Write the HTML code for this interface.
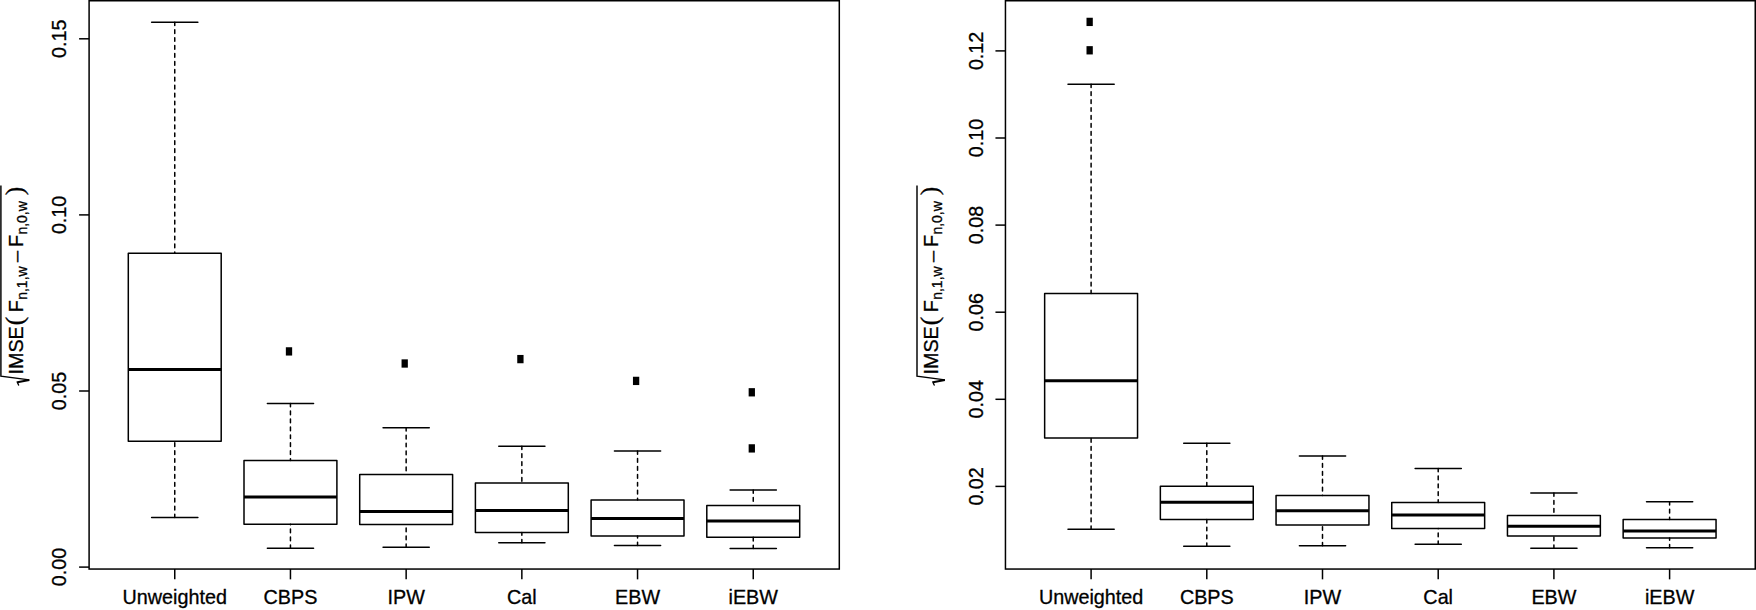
<!DOCTYPE html>
<html lang="en">
<head>
<meta charset="utf-8">
<title>Boxplots of IMSE by weighting method</title>
<style>
html,body{margin:0;padding:0;background:#fff;}
body{width:1756px;height:610px;overflow:hidden;}
svg{display:block;}
.t{font-family:"Liberation Sans", "DejaVu Sans", sans-serif;font-size:19.75px;fill:#000;stroke:#000;stroke-width:0.3px;}
.sub{font-size:14px;}
.par{font-family:"Liberation Serif","DejaVu Serif",serif;font-size:25.5px;}
.min{font-family:"Liberation Serif","DejaVu Serif",serif;font-size:24.3px;}
.s{fill:none;stroke:#000;stroke-width:1.5;stroke-linecap:round;stroke-linejoin:round;}
.w{fill:none;stroke:#000;stroke-width:1.5;stroke-dasharray:3.7 4.24;stroke-dashoffset:0.45;stroke-linecap:round;}
.m{fill:none;stroke:#000;stroke-width:3;}
</style>
</head>
<body>
<svg width="1756" height="610" viewBox="0 0 1756 610">
<rect x="0" y="0" width="1756" height="610" fill="#fff"/>
<g transform="translate(0 0)">
<rect x="89.1" y="0.75" width="750.2" height="568.3" fill="none" stroke="#000" stroke-width="1.5"/>
<line x1="79.1" y1="38.8" x2="89.1" y2="38.8" stroke="#000" stroke-width="1.5"/>
<text class="t" text-anchor="middle" transform="translate(65.8 38.8) rotate(-90)">0.15</text>
<line x1="79.1" y1="214.9" x2="89.1" y2="214.9" stroke="#000" stroke-width="1.5"/>
<text class="t" text-anchor="middle" transform="translate(65.8 214.9) rotate(-90)">0.10</text>
<line x1="79.1" y1="391" x2="89.1" y2="391" stroke="#000" stroke-width="1.5"/>
<text class="t" text-anchor="middle" transform="translate(65.8 391) rotate(-90)">0.05</text>
<line x1="79.1" y1="567.1" x2="89.1" y2="567.1" stroke="#000" stroke-width="1.5"/>
<text class="t" text-anchor="middle" transform="translate(65.8 567.1) rotate(-90)">0.00</text>
<line x1="174.75" y1="569.05" x2="174.75" y2="579.35" stroke="#000" stroke-width="1.5"/>
<text class="t" text-anchor="middle" x="174.75" y="603.5">Unweighted</text>
<line x1="290.45" y1="569.05" x2="290.45" y2="579.35" stroke="#000" stroke-width="1.5"/>
<text class="t" text-anchor="middle" x="290.45" y="603.5">CBPS</text>
<line x1="406.15" y1="569.05" x2="406.15" y2="579.35" stroke="#000" stroke-width="1.5"/>
<text class="t" text-anchor="middle" x="406.15" y="603.5">IPW</text>
<line x1="521.85" y1="569.05" x2="521.85" y2="579.35" stroke="#000" stroke-width="1.5"/>
<text class="t" text-anchor="middle" x="521.85" y="603.5">Cal</text>
<line x1="637.55" y1="569.05" x2="637.55" y2="579.35" stroke="#000" stroke-width="1.5"/>
<text class="t" text-anchor="middle" x="637.55" y="603.5">EBW</text>
<line x1="753.25" y1="569.05" x2="753.25" y2="579.35" stroke="#000" stroke-width="1.5"/>
<text class="t" text-anchor="middle" x="753.25" y="603.5">iEBW</text>
<line class="w" x1="174.75" y1="22.2" x2="174.75" y2="253.2"/>
<line class="w" x1="174.75" y1="517.5" x2="174.75" y2="441.2"/>
<line class="s" x1="151.65" y1="22.2" x2="197.85" y2="22.2"/>
<line class="s" x1="151.65" y1="517.5" x2="197.85" y2="517.5"/>
<rect class="s" x="128.3" y="253.2" width="92.9" height="188"/>
<line class="m" x1="128.3" y1="369.6" x2="221.2" y2="369.6"/>
<line class="w" x1="290.45" y1="403.6" x2="290.45" y2="460.5"/>
<line class="w" x1="290.45" y1="548.2" x2="290.45" y2="524.3"/>
<line class="s" x1="267.35" y1="403.6" x2="313.55" y2="403.6"/>
<line class="s" x1="267.35" y1="548.2" x2="313.55" y2="548.2"/>
<rect class="s" x="244" y="460.5" width="92.9" height="63.8"/>
<line class="m" x1="244" y1="497.1" x2="336.9" y2="497.1"/>
<rect x="285.85" y="347.25" width="6.3" height="8.3" fill="#000"/>
<line class="w" x1="406.15" y1="427.7" x2="406.15" y2="474.5"/>
<line class="w" x1="406.15" y1="547.2" x2="406.15" y2="524.6"/>
<line class="s" x1="383.05" y1="427.7" x2="429.25" y2="427.7"/>
<line class="s" x1="383.05" y1="547.2" x2="429.25" y2="547.2"/>
<rect class="s" x="359.7" y="474.5" width="92.9" height="50.1"/>
<line class="m" x1="359.7" y1="511.5" x2="452.6" y2="511.5"/>
<rect x="401.55" y="359.35" width="6.3" height="8.3" fill="#000"/>
<line class="w" x1="521.85" y1="446.3" x2="521.85" y2="483"/>
<line class="w" x1="521.85" y1="542.8" x2="521.85" y2="532.5"/>
<line class="s" x1="498.75" y1="446.3" x2="544.95" y2="446.3"/>
<line class="s" x1="498.75" y1="542.8" x2="544.95" y2="542.8"/>
<rect class="s" x="475.4" y="483" width="92.9" height="49.5"/>
<line class="m" x1="475.4" y1="510.4" x2="568.3" y2="510.4"/>
<rect x="517.25" y="354.95" width="6.3" height="8.3" fill="#000"/>
<line class="w" x1="637.55" y1="451.1" x2="637.55" y2="499.9"/>
<line class="w" x1="637.55" y1="545.5" x2="637.55" y2="536"/>
<line class="s" x1="614.45" y1="451.1" x2="660.65" y2="451.1"/>
<line class="s" x1="614.45" y1="545.5" x2="660.65" y2="545.5"/>
<rect class="s" x="591.1" y="499.9" width="92.9" height="36.1"/>
<line class="m" x1="591.1" y1="518.5" x2="684" y2="518.5"/>
<rect x="632.95" y="376.75" width="6.3" height="8.3" fill="#000"/>
<line class="w" x1="753.25" y1="490.1" x2="753.25" y2="505.4"/>
<line class="w" x1="753.25" y1="548.5" x2="753.25" y2="537.3"/>
<line class="s" x1="730.15" y1="490.1" x2="776.35" y2="490.1"/>
<line class="s" x1="730.15" y1="548.5" x2="776.35" y2="548.5"/>
<rect class="s" x="706.8" y="505.4" width="92.9" height="31.9"/>
<line class="m" x1="706.8" y1="521" x2="799.7" y2="521"/>
<rect x="748.65" y="388.15" width="6.3" height="8.3" fill="#000"/>
<rect x="748.65" y="444.25" width="6.3" height="8.3" fill="#000"/>
<g transform="translate(0.4 0)">
<polyline fill="none" stroke="#000" stroke-width="1.45" stroke-linejoin="miter" points="0.5,185.4 0.5,376.15 28.9,379.85"/>
<polyline fill="none" stroke="#000" stroke-width="2.0" points="28.9,379.9 17,382.3"/>
<polyline fill="none" stroke="#000" stroke-width="1.35" stroke-linecap="round" points="16.8,381.9 18.2,385.1"/>
<text class="t" transform="translate(22.4 374.5) rotate(-90)"><tspan x="0" y="0">IMSE</tspan><tspan class="par" x="49.2" y="0">( </tspan><tspan x="62.2" y="0">F</tspan><tspan class="sub" x="74.7" y="4">n,1,w </tspan><tspan class="min" x="111.2" y="3.2">− </tspan><tspan x="127.5" y="0">F</tspan><tspan class="sub" x="139.9" y="4">n,0,w </tspan><tspan class="par" x="179.3" y="0">)</tspan></text>
</g>
</g>
<g transform="translate(916.35 0)">
<rect x="89.1" y="0.75" width="749.8" height="568.3" fill="none" stroke="#000" stroke-width="1.5"/>
<line x1="79.1" y1="50.9" x2="89.1" y2="50.9" stroke="#000" stroke-width="1.5"/>
<text class="t" text-anchor="middle" transform="translate(66.4 50.9) rotate(-90)">0.12</text>
<line x1="79.1" y1="138" x2="89.1" y2="138" stroke="#000" stroke-width="1.5"/>
<text class="t" text-anchor="middle" transform="translate(66.4 138) rotate(-90)">0.10</text>
<line x1="79.1" y1="225.1" x2="89.1" y2="225.1" stroke="#000" stroke-width="1.5"/>
<text class="t" text-anchor="middle" transform="translate(66.4 225.1) rotate(-90)">0.08</text>
<line x1="79.1" y1="312.2" x2="89.1" y2="312.2" stroke="#000" stroke-width="1.5"/>
<text class="t" text-anchor="middle" transform="translate(66.4 312.2) rotate(-90)">0.06</text>
<line x1="79.1" y1="399.3" x2="89.1" y2="399.3" stroke="#000" stroke-width="1.5"/>
<text class="t" text-anchor="middle" transform="translate(66.4 399.3) rotate(-90)">0.04</text>
<line x1="79.1" y1="486.4" x2="89.1" y2="486.4" stroke="#000" stroke-width="1.5"/>
<text class="t" text-anchor="middle" transform="translate(66.4 486.4) rotate(-90)">0.02</text>
<line x1="174.75" y1="569.05" x2="174.75" y2="579.35" stroke="#000" stroke-width="1.5"/>
<text class="t" text-anchor="middle" x="174.75" y="603.5">Unweighted</text>
<line x1="290.45" y1="569.05" x2="290.45" y2="579.35" stroke="#000" stroke-width="1.5"/>
<text class="t" text-anchor="middle" x="290.45" y="603.5">CBPS</text>
<line x1="406.15" y1="569.05" x2="406.15" y2="579.35" stroke="#000" stroke-width="1.5"/>
<text class="t" text-anchor="middle" x="406.15" y="603.5">IPW</text>
<line x1="521.85" y1="569.05" x2="521.85" y2="579.35" stroke="#000" stroke-width="1.5"/>
<text class="t" text-anchor="middle" x="521.85" y="603.5">Cal</text>
<line x1="637.55" y1="569.05" x2="637.55" y2="579.35" stroke="#000" stroke-width="1.5"/>
<text class="t" text-anchor="middle" x="637.55" y="603.5">EBW</text>
<line x1="753.25" y1="569.05" x2="753.25" y2="579.35" stroke="#000" stroke-width="1.5"/>
<text class="t" text-anchor="middle" x="753.25" y="603.5">iEBW</text>
<line class="w" x1="174.75" y1="84.3" x2="174.75" y2="293.6"/>
<line class="w" x1="174.75" y1="529.2" x2="174.75" y2="438.1"/>
<line class="s" x1="151.65" y1="84.3" x2="197.85" y2="84.3"/>
<line class="s" x1="151.65" y1="529.2" x2="197.85" y2="529.2"/>
<rect class="s" x="128.3" y="293.6" width="92.9" height="144.5"/>
<line class="m" x1="128.3" y1="380.8" x2="221.2" y2="380.8"/>
<rect x="170.15" y="17.75" width="6.3" height="8.3" fill="#000"/>
<rect x="170.15" y="46.15" width="6.3" height="8.3" fill="#000"/>
<line class="w" x1="290.45" y1="443.2" x2="290.45" y2="486.3"/>
<line class="w" x1="290.45" y1="546.3" x2="290.45" y2="519.5"/>
<line class="s" x1="267.35" y1="443.2" x2="313.55" y2="443.2"/>
<line class="s" x1="267.35" y1="546.3" x2="313.55" y2="546.3"/>
<rect class="s" x="244" y="486.3" width="92.9" height="33.2"/>
<line class="m" x1="244" y1="502.3" x2="336.9" y2="502.3"/>
<line class="w" x1="406.15" y1="456" x2="406.15" y2="495.5"/>
<line class="w" x1="406.15" y1="545.8" x2="406.15" y2="525.1"/>
<line class="s" x1="383.05" y1="456" x2="429.25" y2="456"/>
<line class="s" x1="383.05" y1="545.8" x2="429.25" y2="545.8"/>
<rect class="s" x="359.7" y="495.5" width="92.9" height="29.6"/>
<line class="m" x1="359.7" y1="510.8" x2="452.6" y2="510.8"/>
<line class="w" x1="521.85" y1="468.5" x2="521.85" y2="502.6"/>
<line class="w" x1="521.85" y1="544.3" x2="521.85" y2="528.6"/>
<line class="s" x1="498.75" y1="468.5" x2="544.95" y2="468.5"/>
<line class="s" x1="498.75" y1="544.3" x2="544.95" y2="544.3"/>
<rect class="s" x="475.4" y="502.6" width="92.9" height="26"/>
<line class="m" x1="475.4" y1="515.1" x2="568.3" y2="515.1"/>
<line class="w" x1="637.55" y1="493.1" x2="637.55" y2="515.4"/>
<line class="w" x1="637.55" y1="548.3" x2="637.55" y2="536"/>
<line class="s" x1="614.45" y1="493.1" x2="660.65" y2="493.1"/>
<line class="s" x1="614.45" y1="548.3" x2="660.65" y2="548.3"/>
<rect class="s" x="591.1" y="515.4" width="92.9" height="20.6"/>
<line class="m" x1="591.1" y1="526.2" x2="684" y2="526.2"/>
<line class="w" x1="753.25" y1="501.7" x2="753.25" y2="519.4"/>
<line class="w" x1="753.25" y1="547.8" x2="753.25" y2="538"/>
<line class="s" x1="730.15" y1="501.7" x2="776.35" y2="501.7"/>
<line class="s" x1="730.15" y1="547.8" x2="776.35" y2="547.8"/>
<rect class="s" x="706.8" y="519.4" width="92.9" height="18.6"/>
<line class="m" x1="706.8" y1="531" x2="799.7" y2="531"/>
<g transform="translate(-0.35 0)">
<polyline fill="none" stroke="#000" stroke-width="1.45" stroke-linejoin="miter" points="1,185.4 1,376.15 28.9,379.85"/>
<polyline fill="none" stroke="#000" stroke-width="2.0" points="28.9,379.9 17,382.3"/>
<polyline fill="none" stroke="#000" stroke-width="1.35" stroke-linecap="round" points="16.8,381.9 18.2,385.1"/>
<text class="t" transform="translate(22.4 374.5) rotate(-90)"><tspan x="0" y="0">IMSE</tspan><tspan class="par" x="49.2" y="0">( </tspan><tspan x="62.2" y="0">F</tspan><tspan class="sub" x="74.7" y="4">n,1,w </tspan><tspan class="min" x="111.2" y="3.2">− </tspan><tspan x="127.5" y="0">F</tspan><tspan class="sub" x="139.9" y="4">n,0,w </tspan><tspan class="par" x="179.3" y="0">)</tspan></text>
</g>
</g>
</svg>
</body>
</html>
